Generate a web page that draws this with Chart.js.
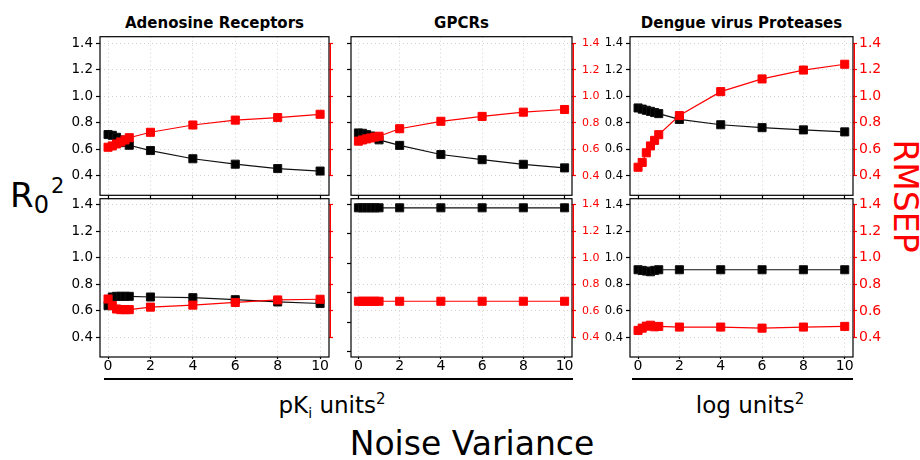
<!DOCTYPE html>
<html><head><meta charset="utf-8">
<script src="https://cdn.jsdelivr.net/npm/chart.js@4"></script>
<style>
body{margin:0;background:#fff;width:920px;height:460px;position:relative;overflow:hidden;font-family:"DejaVu Sans",sans-serif}
canvas{position:absolute}
.t{position:absolute;white-space:nowrap;color:#000;line-height:1}
.c{transform:translate(-50%,-50%)}
.ln{position:absolute;background:#000;height:2px}
</style></head><body>
<div class="t c" style="left:214.5px;top:22.8px;font-weight:bold;font-size:15px">Adenosine Receptors</div>
<div class="t c" style="left:461.5px;top:22.8px;font-weight:bold;font-size:15px">GPCRs</div>
<div class="t c" style="left:741.5px;top:22.8px;font-weight:bold;font-size:15px">Dengue virus Proteases</div>
<div class="t" style="left:10px;top:178px;font-size:34px">R<span style="font-size:24px;position:relative;top:6px">0</span><span style="font-size:21px;position:relative;top:-14px;margin-left:2px">2</span></div>
<div class="t" style="left:905px;top:196px;font-size:33px;color:#ff0000;transform:translate(-50%,-50%) rotate(90deg)">RMSEP</div>
<div class="ln" style="left:104px;width:469px;top:378px"></div>
<div class="ln" style="left:632px;width:221px;top:378px"></div>
<div class="t c" style="left:332px;top:405px;font-size:23px">pK<span style="font-size:14px;position:relative;top:5px">i</span> units<span style="font-size:15px;position:relative;top:-9px">2</span></div>
<div class="t c" style="left:750px;top:405px;font-size:23px">log units<span style="font-size:15px;position:relative;top:-9px">2</span></div>
<div class="t c" style="left:472px;top:443px;font-size:33px">Noise Variance</div>
<script>
// ---- data ----
const X_VALUES = [0, 0.2, 0.4, 0.6, 0.8, 1, 2, 4, 6, 8, 10];
const X_TICKS = [0, 2, 4, 6, 8, 10];
const Y_TICKS = [0.4, 0.6, 0.8, 1.0, 1.2, 1.4];

const ADENOSINE_TOP_R02   = [0.711, 0.705, 0.69, 0.67, 0.65, 0.63, 0.59, 0.528, 0.487, 0.454, 0.435];
const ADENOSINE_TOP_RMSEP = [0.615, 0.625, 0.64, 0.655, 0.67, 0.687, 0.728, 0.783, 0.82, 0.839, 0.864];
const GPCR_TOP_R02        = [0.723, 0.72, 0.71, 0.70, 0.69, 0.671, 0.629, 0.56, 0.521, 0.486, 0.459];
const GPCR_TOP_RMSEP      = [0.661, 0.67, 0.678, 0.685, 0.692, 0.698, 0.755, 0.811, 0.848, 0.88, 0.90];
const DENGUE_TOP_R02      = [0.912, 0.903, 0.894, 0.886, 0.877, 0.869, 0.825, 0.785, 0.763, 0.746, 0.731];
const DENGUE_TOP_RMSEP    = [0.464, 0.50, 0.573, 0.625, 0.667, 0.71, 0.854, 1.035, 1.131, 1.198, 1.242];

const ADENOSINE_BOT_R02   = [0.64, 0.705, 0.71, 0.71, 0.71, 0.71, 0.705, 0.70, 0.685, 0.668, 0.656];
const ADENOSINE_BOT_RMSEP = [0.69, 0.64, 0.615, 0.61, 0.61, 0.61, 0.629, 0.644, 0.664, 0.683, 0.688];
const GPCR_BOT_R02        = [1.378, 1.378, 1.378, 1.378, 1.378, 1.378, 1.378, 1.378, 1.378, 1.378, 1.378];
const GPCR_BOT_RMSEP      = [0.673, 0.673, 0.673, 0.673, 0.673, 0.673, 0.673, 0.673, 0.673, 0.673, 0.673];
const DENGUE_BOT_R02      = [0.91, 0.905, 0.90, 0.895, 0.905, 0.91, 0.91, 0.91, 0.91, 0.91, 0.91];
const DENGUE_BOT_RMSEP    = [0.454, 0.471, 0.486, 0.493, 0.481, 0.484, 0.479, 0.479, 0.471, 0.479, 0.484];

Chart.defaults.font.family = '"DejaVu Sans", sans-serif';

const framePlugin = {
  id: 'frame',
  afterDraw(chart) {
    const {ctx, chartArea: a, scales} = chart;
    ctx.save();
    ctx.strokeStyle = '#000'; ctx.lineWidth = 1.2;
    ctx.strokeRect(a.left, a.top, a.right - a.left, a.bottom - a.top);
    const yR = scales.yR;
    ctx.strokeStyle = '#ff0000'; ctx.lineWidth = 1.4;
    ctx.beginPath();
    ctx.moveTo(a.right + 1.3, yR.getPixelForValue(Y_TICKS[Y_TICKS.length - 1]));
    ctx.lineTo(a.right + 1.3, yR.getPixelForValue(Y_TICKS[0]));
    ctx.stroke();
    ctx.restore();
  }
};

function zeroPad(s) { s.paddingTop = 0; s.paddingBottom = 0; s.paddingLeft = 0; s.paddingRight = 0; }

function makePanel(p) {
  const L = 45, R = 40, T = 4, B = p.xLabels ? 30 : 6;
  const w = L + (p.r - p.l) + R, h = T + (p.b - p.t) + B;
  const cv = document.createElement('canvas');
  cv.width = w; cv.height = h;
  cv.style.left = (p.l - L) + 'px'; cv.style.top = (p.t - T) + 'px';
  cv.style.width = w + 'px'; cv.style.height = h + 'px';
  document.body.appendChild(cv);
  const pts = arr => X_VALUES.map((x, i) => ({x, y: arr[i]}));
  const gridCol = '#d0d0d0';
  new Chart(cv, {
    type: 'line',
    data: { datasets: [
      { label: 'RMSEP', data: pts(p.rmsep), yAxisID: 'yR', borderColor: '#ff0000', backgroundColor: '#ff0000',
        pointStyle: 'rect', pointRadius: 5.7, pointBorderWidth: 1, borderWidth: 1.2, order: 1 },
      { label: 'R0^2', data: pts(p.r02), yAxisID: 'yL', borderColor: '#111', backgroundColor: '#000',
        pointStyle: 'rect', pointRadius: 5.7, pointBorderWidth: 1, borderWidth: 1.2, order: 2 }
    ]},
    options: {
      responsive: false, animation: false, devicePixelRatio: 1,
      layout: { padding: { top: T, left: 0, right: 0, bottom: 0 } },
      plugins: { legend: { display: false }, tooltip: { enabled: false }, title: { display: false } },
      scales: {
        x: { type: 'linear', min: p.xMin, max: p.xMax,
          afterBuildTicks: s => { s.ticks = X_TICKS.map(v => ({value: v})); },
          afterFit: s => { s.height = B; zeroPad(s); },
          ticks: { display: p.xLabels, color: '#000', font: { size: 14 }, padding: -1, maxRotation: 0, autoSkip: false, callback: v => String(v) },
          grid: { color: gridCol, lineWidth: 1, drawTicks: true, tickLength: p.xLabels ? 2 : 4, tickColor: '#000', tickWidth: 1.2 },
          border: { display: false, dash: [1, 3] } },
        yL: { type: 'linear', position: 'left', min: p.lMin, max: p.lMax,
          afterBuildTicks: s => { s.ticks = Y_TICKS.map(v => ({value: v})); },
          afterFit: s => { s.width = L; zeroPad(s); },
          ticks: { display: p.leftSize > 0, color: '#000', font: { size: p.leftSize || 12 }, padding: 3, callback: v => v.toFixed(1) },
          grid: { drawOnChartArea: false, drawTicks: true, tickLength: 4, tickColor: '#000', tickWidth: 1.2 },
          border: { display: false } },
        yR: { type: 'linear', position: 'right', min: p.rMin, max: p.rMax,
          afterBuildTicks: s => { s.ticks = Y_TICKS.map(v => ({value: v})); },
          afterFit: s => { s.width = R; zeroPad(s); },
          ticks: { display: p.rightSize > 0, color: '#ff0000', font: { size: p.rightSize || 12 }, padding: p.rightPad || 3, callback: v => v.toFixed(1) },
          grid: { drawOnChartArea: true, color: gridCol, lineWidth: 1, drawTicks: true, tickLength: 4, tickColor: '#ff0000', tickWidth: 1.2 },
          border: { display: false, dash: [1, 3] } }
      }
    },
    plugins: [framePlugin]
  });
}

const TOP = { t: 34, b: 196, lMin: 0.252, lMax: 1.45, rMin: 0.252, rMax: 1.45, xLabels: false };
const BOT = { t: 196, b: 357, lMin: 0.254, lMax: 1.444, rMin: 0.254, rMax: 1.444, xLabels: true };

makePanel(Object.assign({}, TOP, { l: 100, r: 329, xMin: -0.38, xMax: 10.42, leftSize: 13.5, rightSize: 0, r02: ADENOSINE_TOP_R02, rmsep: ADENOSINE_TOP_RMSEP }));
makePanel(Object.assign({}, TOP, { l: 351, r: 572, xMin: -0.36, xMax: 10.36, leftSize: 0, rightSize: 11, rightPad: 6, r02: GPCR_TOP_R02, rmsep: GPCR_TOP_RMSEP }));
makePanel(Object.assign({}, TOP, { l: 630, r: 853, xMin: -0.39, xMax: 10.4, leftSize: 11.5, rightSize: 14, rightPad: 2, r02: DENGUE_TOP_R02, rmsep: DENGUE_TOP_RMSEP }));
makePanel(Object.assign({}, BOT, { l: 100, r: 329, xMin: -0.38, xMax: 10.42, leftSize: 13.5, rightSize: 0, r02: ADENOSINE_BOT_R02, rmsep: ADENOSINE_BOT_RMSEP }));
makePanel(Object.assign({}, BOT, { l: 351, r: 572, xMin: -0.36, xMax: 10.36, lMin: 0.362, lMax: 1.44, leftSize: 0, rightSize: 11, rightPad: 6, r02: GPCR_BOT_R02, rmsep: GPCR_BOT_RMSEP }));
makePanel(Object.assign({}, BOT, { l: 630, r: 853, xMin: -0.39, xMax: 10.4, leftSize: 11.5, rightSize: 14, rightPad: 2, r02: DENGUE_BOT_R02, rmsep: DENGUE_BOT_RMSEP }));
</script>
</body></html>
